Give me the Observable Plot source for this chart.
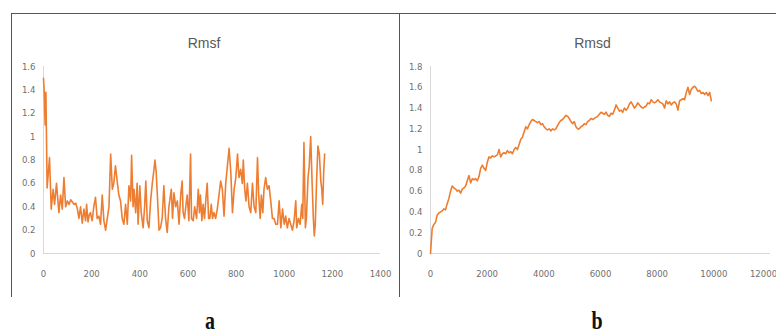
<!DOCTYPE html>
<html>
<head>
<meta charset="utf-8">
<script src="https://cdn.jsdelivr.net/npm/d3@7"></script>
<script src="https://cdn.jsdelivr.net/npm/@observablehq/plot@0.6"></script>
<style>
  body { margin: 0; background: #fff; }
  #root { position: relative; width: 776px; height: 336px; overflow: hidden; background: #fff; }
  .panel { position: absolute; top: 0; }
  .line { position: absolute; background: #555; }
  .lab { position: absolute; font-family: "Liberation Serif", "DejaVu Serif", serif; font-weight: bold; font-size: 20px; transform: scaleY(1.3); transform-origin: 50% 100%; color: #111; width: 40px; text-align: center; line-height: 20px; }
</style>
</head>
<body>
<div id="root">
  <div class="line" style="left:11px; top:13px; width:765px; height:1px;"></div>
  <div class="line" style="left:11px; top:13px; width:1px; height:284px;"></div>
  <div class="line" style="left:399px; top:13px; width:1px; height:284px;"></div>
  <div class="panel" id="pa" style="left:0px;"></div>
  <div class="panel" id="pb" style="left:400px;"></div>
  <div class="lab" style="left:190px; top:313px;">a</div>
  <div class="lab" style="left:577px; top:313px;">b</div>
</div>
<script>
// ---- Panel a: Rmsf ----
const rmsfTitle = "Rmsf";
const rmsfXTicks = [0, 200, 400, 600, 800, 1000, 1200, 1400];
const rmsfYTicks = [0, 0.2, 0.4, 0.6, 0.8, 1, 1.2, 1.4, 1.6];
const rmsfResidue = [0,3,7,10,13,15,25,32,40,46,54,64,71,78,85,92,99,106,113,120,127,134,141,147,154,161,168,175,179,185,190,195,202,209,216,223,230,237,244,251,258,265,272,279,286,292,299,306,313,320,327,334,341,348,355,362,366,372,376,383,389,393,400,406,414,420,425,431,438,445,452,459,463,468,473,480,486,493,500,507,514,521,531,536,542,549,556,563,570,576,580,586,591,597,604,611,615,622,628,636,643,648,652,658,663,669,674,680,686,691,697,702,708,715,722,729,736,743,750,757,764,771,778,785,792,799,806,812,819,826,830,836,841,847,854,861,868,875,882,889,894,900,905,911,916,923,930,937,944,951,958,965,972,979,986,993,1000,1006,1013,1020,1027,1034,1041,1048,1052,1059,1066,1073,1077,1082,1088,1092,1099,1104,1110,1116,1121,1125,1129,1135,1140,1146,1152,1156,1160,1164,1168];
const rmsfValue = [1.50,1.38,1.10,1.38,0.90,0.56,0.82,0.38,0.55,0.42,0.60,0.35,0.50,0.38,0.65,0.40,0.45,0.42,0.46,0.44,0.42,0.43,0.38,0.30,0.40,0.26,0.38,0.28,0.42,0.27,0.33,0.35,0.28,0.40,0.48,0.30,0.32,0.25,0.50,0.28,0.20,0.30,0.40,0.85,0.55,0.60,0.75,0.62,0.50,0.45,0.30,0.25,0.42,0.25,0.58,0.45,0.84,0.40,0.55,0.35,0.60,0.25,0.58,0.35,0.22,0.40,0.62,0.28,0.22,0.45,0.60,0.72,0.80,0.70,0.50,0.20,0.22,0.30,0.58,0.30,0.18,0.40,0.55,0.30,0.52,0.40,0.45,0.25,0.50,0.62,0.35,0.30,0.40,0.50,0.28,0.85,0.30,0.28,0.40,0.30,0.55,0.35,0.50,0.28,0.42,0.30,0.45,0.60,0.30,0.30,0.42,0.30,0.35,0.30,0.38,0.50,0.62,0.55,0.32,0.60,0.75,0.90,0.70,0.35,0.55,0.65,0.85,0.65,0.72,0.60,0.80,0.55,0.45,0.60,0.40,0.35,0.60,0.40,0.35,0.82,0.50,0.30,0.50,0.35,0.55,0.65,0.55,0.58,0.45,0.30,0.30,0.25,0.25,0.45,0.22,0.38,0.25,0.32,0.22,0.30,0.25,0.20,0.28,0.45,0.22,0.30,0.25,0.42,0.30,0.95,0.22,0.30,0.65,0.75,1.00,0.60,0.30,0.15,0.25,0.65,0.92,0.85,0.62,0.55,0.42,0.70,0.85];

// ---- Panel b: Rmsd ----
const rmsdTitle = "Rmsd";
const rmsdXTicks = [0, 2000, 4000, 6000, 8000, 10000, 12000];
const rmsdYTicks = [0, 0.2, 0.4, 0.6, 0.8, 1, 1.2, 1.4, 1.6, 1.8];
const rmsdTimeStep = 59; // sampling interval along the x axis
const rmsdValue = [0,0.24,0.28,0.30,0.37,0.39,0.40,0.41,0.43,0.42,0.48,0.53,0.60,0.65,0.63,0.62,0.60,0.61,0.58,0.62,0.63,0.65,0.70,0.75,0.68,0.72,0.71,0.72,0.70,0.74,0.82,0.85,0.82,0.80,0.88,0.93,0.92,0.94,0.93,0.94,0.95,1.00,0.93,0.96,0.97,0.96,0.99,0.97,0.98,0.96,1.00,1.02,1.00,1.05,1.10,1.12,1.17,1.22,1.20,1.24,1.27,1.29,1.28,1.27,1.26,1.27,1.24,1.25,1.22,1.20,1.19,1.20,1.18,1.20,1.19,1.20,1.23,1.26,1.28,1.29,1.31,1.33,1.32,1.30,1.27,1.25,1.27,1.22,1.20,1.20,1.22,1.23,1.25,1.24,1.27,1.28,1.30,1.29,1.30,1.31,1.32,1.34,1.36,1.35,1.34,1.36,1.33,1.32,1.35,1.34,1.38,1.43,1.40,1.37,1.38,1.36,1.40,1.38,1.40,1.44,1.46,1.43,1.40,1.42,1.45,1.43,1.41,1.40,1.41,1.42,1.45,1.44,1.48,1.46,1.45,1.46,1.48,1.46,1.45,1.44,1.40,1.47,1.44,1.46,1.43,1.45,1.46,1.44,1.38,1.47,1.48,1.49,1.48,1.55,1.60,1.53,1.58,1.60,1.61,1.59,1.56,1.57,1.54,1.55,1.53,1.55,1.52,1.55,1.47];

const lineColor = "#ed7d31";
const fmtY = d => String(+d.toFixed(1));
const baseStyle = {fontFamily: '"Liberation Sans Narrow", "DejaVu Sans Condensed", sans-serif', fontSize: "9.5px", color: "#707070", background: "transparent", overflow: "visible"};

const rmsfData = rmsfResidue.map((r, i) => ({x: r, y: rmsfValue[i]}));
const rmsdData = rmsdValue.map((v, i) => ({x: i * rmsdTimeStep, y: v}));

function panel(data, title, xTicks, yTicks, width, ml, mr, dxTitle, lastDx) {
  const n = xTicks.length;
  return Plot.plot({
    width, height: 300,
    marginLeft: ml, marginRight: mr, marginTop: 66, marginBottom: 47,
    style: baseStyle,
    x: {domain: [xTicks[0], xTicks[n - 1]]},
    y: {domain: [yTicks[0], yTicks[yTicks.length - 1]]},
    marks: [
      Plot.ruleX([xTicks[0]], {stroke: "#d9d9d9", strokeWidth: 1}),
      Plot.ruleY([yTicks[0]], {stroke: "#d9d9d9", strokeWidth: 1}),
      Plot.axisY({ticks: yTicks, tickSize: 0, tickPadding: 8, tickFormat: fmtY, label: null, fill: "#707070"}),
      Plot.axisX({ticks: xTicks.slice(0, n - 1), tickSize: 0, tickPadding: 17, tickFormat: d => String(d), label: null, fill: "#707070"}),
      Plot.axisX({ticks: xTicks.slice(n - 1), tickSize: 0, tickPadding: 17, tickFormat: d => String(d), label: null, fill: "#707070", dx: lastDx}),
      Plot.line(data, {x: "x", y: "y", stroke: lineColor, strokeWidth: 1.6, strokeLinejoin: "round"}),
      Plot.text([title], {frameAnchor: "top", dy: -28, dx: dxTitle, text: d => d, fontSize: 14, fill: "#595959", fontFamily: '"Liberation Sans", Arial, sans-serif'})
    ]
  });
}

document.getElementById("pa").appendChild(panel(rmsfData, rmsfTitle, rmsfXTicks, rmsfYTicks, 400, 43, 20, -8, 0));
document.getElementById("pb").appendChild(panel(rmsdData, rmsdTitle, rmsdXTicks, rmsdYTicks, 376, 30, 6, -8, -7));
</script>
</body>
</html>
